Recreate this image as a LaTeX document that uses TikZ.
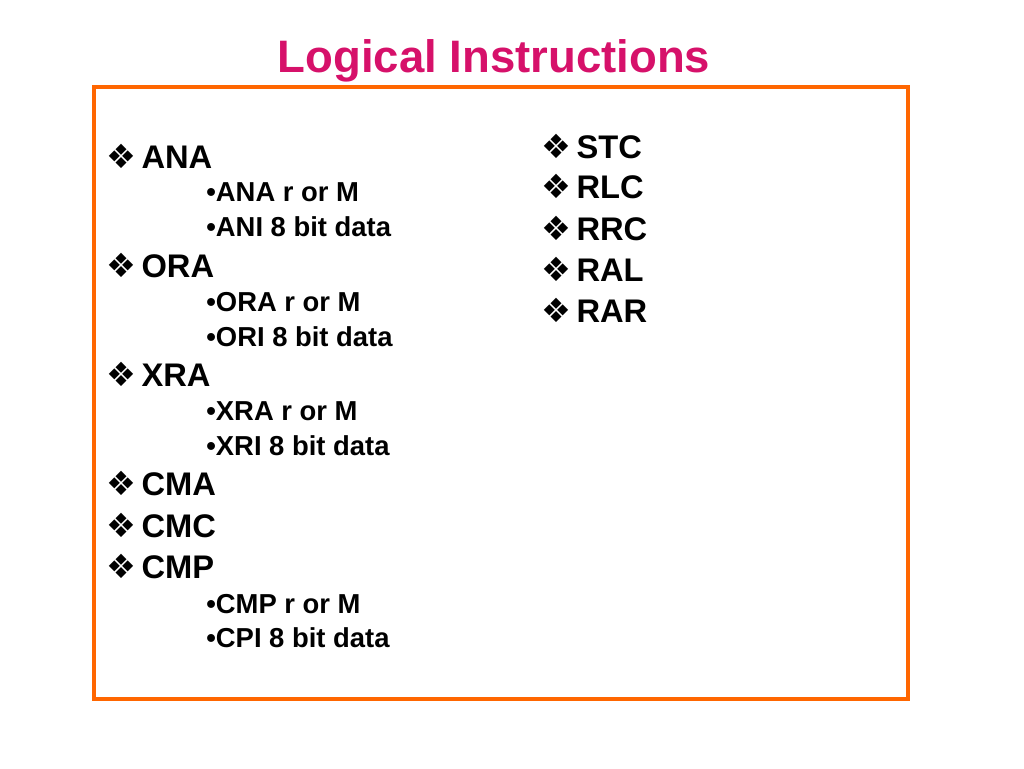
\documentclass[tikz,border=0pt]{standalone}
\usepackage{fontspec}
\setmainfont{Liberation Sans}
\newfontfamily\symfont{DejaVu Sans}
\usepackage{tikz}
\usetikzlibrary{positioning}
\definecolor{titlepink}{RGB}{214,17,106}
\definecolor{frameorange}{RGB}{255,102,0}
\tikzset{
  mainitem/.style={anchor=base west, inner sep=0pt, font=\fontsize{18.6}{20}\selectfont\bfseries},
  subitem/.style={anchor=base west, inner sep=0pt, font=\fontsize{15.6}{18}\selectfont\bfseries}
}
\newcommand{\dia}{{\symfont\fontsize{19}{20}\selectfont ❖}\hspace{3pt}}
\begin{document}
\begin{tikzpicture}[x=0.02cm, y=-0.02cm]
  \useasboundingbox (0,0) rectangle (1024,768);
  \node[font=\fontsize{25.9}{30}\selectfont\bfseries, text=titlepink, anchor=base] (title) at (494,72) {Logical Instructions};
  \draw[frameorange, line width=2.8pt] (94,87) rectangle (908,699);
  % left column
  \node[mainitem] (ana) at (106,168) {\dia ANA};
  \node[subitem] (ana1) at (206,201) {•ANA r or M};
  \node[subitem] (ana2) at (206,236) {•ANI 8 bit data};
  \node[mainitem] (ora) at (106,277) {\dia ORA};
  \node[subitem] (ora1) at (206,311) {•ORA r or M};
  \node[subitem] (ora2) at (206,346) {•ORI 8 bit data};
  \node[mainitem] (xra) at (106,386) {\dia XRA};
  \node[subitem] (xra1) at (206,420) {•XRA r or M};
  \node[subitem] (xra2) at (206,455) {•XRI 8 bit data};
  \node[mainitem] (cma) at (106,495) {\dia CMA};
  \node[mainitem] (cmc) at (106,537) {\dia CMC};
  \node[mainitem] (cmp) at (106,578) {\dia CMP};
  \node[subitem] (cmp1) at (206,613) {•CMP r or M};
  \node[subitem] (cmp2) at (206,647) {•CPI 8 bit data};
  % right column
  \node[mainitem] (stc) at (541,158) {\dia STC};
  \node[mainitem] (rlc) at (541,198) {\dia RLC};
  \node[mainitem] (rrc) at (541,240) {\dia RRC};
  \node[mainitem] (ral) at (541,281) {\dia RAL};
  \node[mainitem] (rar) at (541,322) {\dia RAR};
\end{tikzpicture}
\end{document}
